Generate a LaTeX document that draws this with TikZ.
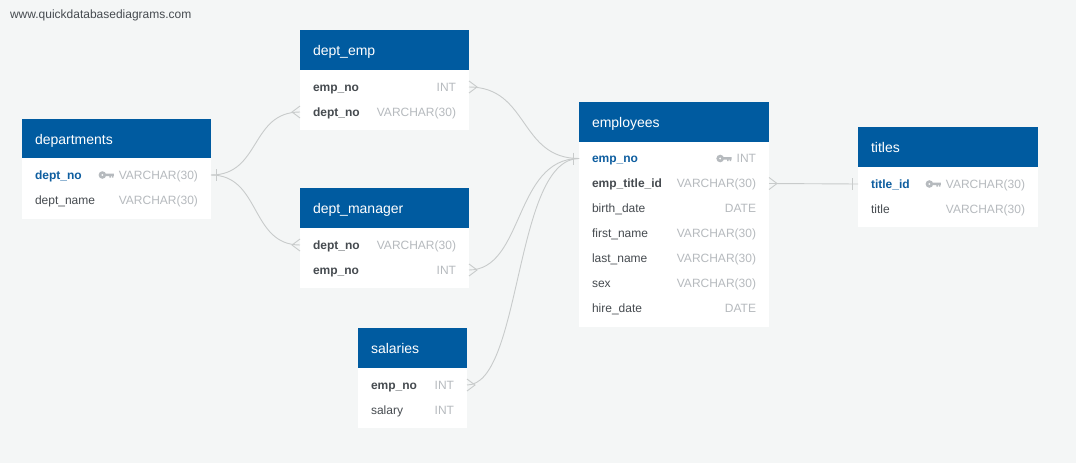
\documentclass[tikz,border=0pt]{standalone}
\usepackage{fontspec}
\setmainfont{Liberation Sans}
\usetikzlibrary{positioning}
\definecolor{pagebg}{RGB}{244,246,246}
\definecolor{headblue}{RGB}{0,91,160}
\definecolor{keyblue}{RGB}{14,94,160}
\definecolor{namegray}{RGB}{70,75,80}
\definecolor{typegray}{RGB}{182,186,190}
\definecolor{linegray}{RGB}{200,203,203}
\tikzset{
  tablehead/.style={fill=headblue,text=white,anchor=north west,inner xsep=13pt,inner ysep=0pt,outer sep=0pt,
    minimum height=40pt,align=left,font=\fontsize{14}{16}\selectfont,text height=12pt,text depth=1pt},
  tablebody/.style={fill=white,inner sep=0pt,outer sep=0pt},
  fieldrow/.style={inner sep=0pt,outer sep=0pt,minimum height=25pt},
  fieldtext/.style={inner sep=0pt,outer sep=0pt,text height=10pt,text depth=2pt,font=\fontsize{12}{14}\selectfont},
  pkfield/.style={fieldtext,text=keyblue,font=\fontsize{12}{14}\selectfont\bfseries},
  fkfield/.style={fieldtext,text=namegray,font=\fontsize{12}{14}\selectfont\bfseries},
  plainfield/.style={fieldtext,text=namegray},
  fieldtype/.style={fieldtext,text=typegray},
  relline/.style={draw=linegray,line width=0.9pt},
  keyicon/.pic={
    \fill[typegray,even odd rule] (-11.5,0) circle (3.8) (-11.5,0) circle (1.2);
    \fill[typegray] (-8.5,1.4) rectangle (0,-1) (-4.5,0) rectangle (-3,-2.6) (-2,0) rectangle (-0.5,-2.6);
  },
  crowfoot/.pic={\draw[relline] (0,6)--(8,0)--(0,-6);},
  onebar/.pic={\draw[relline] (0,6)--(0,-6);},
}
\begin{document}
\begin{tikzpicture}[x=1pt,y=1pt]
  \useasboundingbox (0,0) rectangle (1076,-463);
  \fill[pagebg] (0,0) rectangle (1076,-463);
  \node[fieldtext,anchor=west,text=namegray] (siteurl) at (10,-15) {www.quickdatabasediagrams.com};

  % departments
  \node[tablehead,text width=163pt,minimum height=39pt] (departments) at (22,-119) {departments};
  \node[tablebody,below=0pt of departments,minimum width=189pt,minimum height=61pt] (deptbody) {};
  \foreach \fname/\ftype/\fstyle [count=\i] in {dept\_no/VARCHAR(30)/pkfield,dept\_name/VARCHAR(30)/plainfield}{
    \node[fieldrow,minimum width=189pt] (dept\i) at ([yshift={-17pt-25pt*(\i-1)}]deptbody.north) {};
    \node[\fstyle,right=13pt of dept\i.west] (dept\i n) {\fname};
    \node[fieldtype,left=13pt of dept\i.east] (dept\i t) {\ftype};
  }
  \pic at ([xshift=-5pt]dept1t.west) {keyicon};

  % dept_emp
  \node[tablehead,text width=143pt] (dept_emp) at (300,-30) {dept\_emp};
  \node[tablebody,below=0pt of dept_emp,minimum width=169pt,minimum height=60pt] (debody) {};
  \foreach \fname/\ftype/\fstyle [count=\i] in {emp\_no/INT/fkfield,dept\_no/VARCHAR(30)/fkfield}{
    \node[fieldrow,minimum width=169pt] (de\i) at ([yshift={-17pt-25pt*(\i-1)}]debody.north) {};
    \node[\fstyle,right=13pt of de\i.west] (de\i n) {\fname};
    \node[fieldtype,left=13pt of de\i.east] (de\i t) {\ftype};
  }

  % dept_manager
  \node[tablehead,text width=143pt] (dept_manager) at (300,-188) {dept\_manager};
  \node[tablebody,below=0pt of dept_manager,minimum width=169pt,minimum height=60pt] (dmbody) {};
  \foreach \fname/\ftype/\fstyle [count=\i] in {dept\_no/VARCHAR(30)/fkfield,emp\_no/INT/fkfield}{
    \node[fieldrow,minimum width=169pt] (dm\i) at ([yshift={-17pt-25pt*(\i-1)}]dmbody.north) {};
    \node[\fstyle,right=13pt of dm\i.west] (dm\i n) {\fname};
    \node[fieldtype,left=13pt of dm\i.east] (dm\i t) {\ftype};
  }

  % salaries
  \node[tablehead,text width=83pt] (salaries) at (358,-328) {salaries};
  \node[tablebody,below=0pt of salaries,minimum width=109pt,minimum height=60pt] (salbody) {};
  \foreach \fname/\ftype/\fstyle [count=\i] in {emp\_no/INT/fkfield,salary/INT/plainfield}{
    \node[fieldrow,minimum width=109pt] (sal\i) at ([yshift={-17pt-25pt*(\i-1)}]salbody.north) {};
    \node[\fstyle,right=13pt of sal\i.west] (sal\i n) {\fname};
    \node[fieldtype,left=13pt of sal\i.east] (sal\i t) {\ftype};
  }

  % employees
  \node[tablehead,text width=164pt] (employees) at (579,-102) {employees};
  \node[tablebody,below=0pt of employees,minimum width=190pt,minimum height=185pt] (empbody) {};
  \foreach \fname/\ftype/\fstyle [count=\i] in {emp\_no/INT/pkfield,emp\_title\_id/VARCHAR(30)/fkfield,
      birth\_date/DATE/plainfield,first\_name/VARCHAR(30)/plainfield,last\_name/VARCHAR(30)/plainfield,
      sex/VARCHAR(30)/plainfield,hire\_date/DATE/plainfield}{
    \node[fieldrow,minimum width=190pt] (emp\i) at ([yshift={-16.5pt-25pt*(\i-1)}]empbody.north) {};
    \node[\fstyle,right=13pt of emp\i.west] (emp\i n) {\fname};
    \node[fieldtype,left=13pt of emp\i.east] (emp\i t) {\ftype};
  }
  \pic at ([xshift=-5pt]emp1t.west) {keyicon};

  % titles
  \node[tablehead,text width=154pt] (titles) at (858,-127) {titles};
  \node[tablebody,below=0pt of titles,minimum width=180pt,minimum height=60pt] (titlebody) {};
  \foreach \fname/\ftype/\fstyle [count=\i] in {title\_id/VARCHAR(30)/pkfield,title/VARCHAR(30)/plainfield}{
    \node[fieldrow,minimum width=180pt] (title\i) at ([yshift={-17pt-25pt*(\i-1)}]titlebody.north) {};
    \node[\fstyle,right=13pt of title\i.west] (title\i n) {\fname};
    \node[fieldtype,left=13pt of title\i.east] (title\i t) {\ftype};
  }
  \pic at ([xshift=-5pt]title1t.west) {keyicon};

  % relations
  \draw[relline] (dept1.east) .. controls +(50,0) and +(-50,0) .. (de2.west);
  \draw[relline] (dept1.east) .. controls +(50,0) and +(-50,0) .. (dm1.west);
  \draw[relline] (de1.east) .. controls +(60,0) and +(-60,0) .. (emp1.west);
  \draw[relline] (dm2.east) .. controls +(55,0) and +(-65,0) .. (emp1.west);
  \draw[relline] (sal1.east) .. controls +(55,0) and +(-65,0) .. (emp1.west);
  \draw[relline] (emp2.east) -- (title1.west);

  \pic at ([xshift=5pt]dept1.east) {onebar};
  \pic at ([xshift=-6pt]emp1.west) {onebar};
  \pic at ([xshift=-6pt]title1.west) {onebar};
  \pic[xscale=-1] at (de2.west) {crowfoot};
  \pic[xscale=-1] at (dm1.west) {crowfoot};
  \pic at (de1.east) {crowfoot};
  \pic at (dm2.east) {crowfoot};
  \pic at (sal1.east) {crowfoot};
  \pic at (emp2.east) {crowfoot};
\end{tikzpicture}
\end{document}
